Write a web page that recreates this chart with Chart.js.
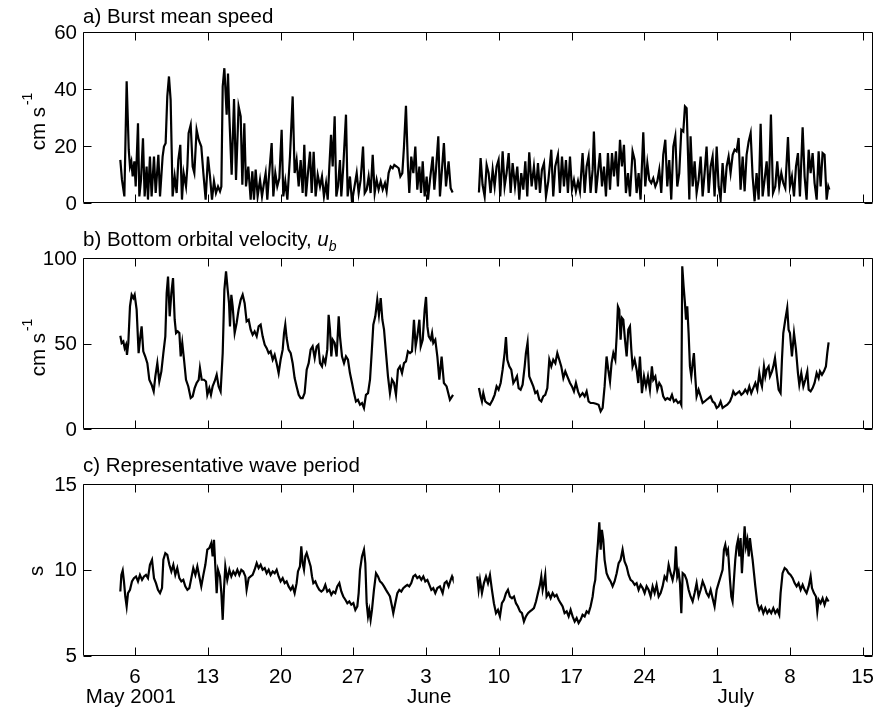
<!DOCTYPE html>
<html>
<head>
<meta charset="utf-8">
<script src="https://cdn.jsdelivr.net/npm/chart.js@4.4.1/dist/chart.umd.min.js"></script>
<style>
body{margin:0;background:#fff}
#wrap{position:relative;width:875px;height:709px}
canvas{position:absolute;left:0}
</style>
</head>
<body>
<div id="wrap">
  <canvas id="pa" width="875" height="226" style="top:0;width:875px;height:226px"></canvas>
  <canvas id="pb" width="875" height="226" style="top:226px;width:875px;height:226px"></canvas>
  <canvas id="pc" width="875" height="257" style="top:452px;width:875px;height:257px"></canvas>
</div>
<script>
// x is days since 1 May 2001
const dayTicks = [5,12,19,26,33,40,47,54,61,68,75];
const dayLabels = ['6','13','20','27','3','10','17','24','1','8','15'];
const monthLabels = ['May 2001','June','July'];
const monthDays = [4.6,33.3,62.8];
const gapDay = 36.8;

// a) burst mean speed, cm/s  [day, value]
const speedPart1 = [[3.59,15.1],[3.75,8.1],[3.98,2.3],[4.2,42.7],[4.4,18.7],[4.52,12.8],[4.65,14.6],[4.78,9.3],[4.94,14.6],[5.07,5.8],[5.29,28],[5.42,2.3],[5.58,8.1],[5.77,22.7],[5.93,2.3],[6.12,12.8],[6.25,1.2],[6.44,16.3],[6.6,2.3],[6.83,16.3],[6.99,3.5],[7.25,16.9],[7.41,2.3],[7.66,16.3],[7.79,19.8],[7.95,21],[8.11,37.4],[8.27,44.4],[8.43,36.2],[8.53,18.7],[8.62,2.3],[8.82,9.3],[9.01,3.5],[9.17,15.1],[9.36,20.4],[9.52,1.2],[9.68,10.5],[9.91,5.8],[10.04,12.8],[10.16,24.5],[10.36,27.4],[10.55,12.8],[10.71,10.5],[10.93,25.7],[11.13,22.2],[11.38,19.8],[11.58,10.5],[11.8,1.2],[12.02,16.3],[12.22,9.3],[12.41,1.2],[12.6,7.6],[12.79,3.5],[12.99,5.8],[13.18,4.1],[13.31,5.8],[13.44,40.9],[13.6,47.3],[13.82,31],[13.95,45.4],[14.08,30.4],[14.3,9.9],[14.53,36.5],[14.72,8.1],[14.97,33.9],[15.17,30.4],[15.33,6.4],[15.52,28],[15.68,5.8],[15.9,12.8],[16.13,1.2],[16.29,11.1],[16.45,1.2],[16.61,11.7],[16.8,2.3],[17.03,8.1],[17.22,2.3],[17.41,7],[17.57,10.5],[17.73,1.2],[17.86,8.1],[18.15,21],[18.31,2.3],[18.5,10.5],[18.69,5.8],[18.89,8.7],[19.11,25.7],[19.27,2.3],[19.46,7.6],[19.66,1.2],[19.91,16.3],[20.17,37.4],[20.36,10.5],[20.55,15.1],[20.75,5.8],[20.94,15.1],[21.13,3.5],[21.29,20.4],[21.45,2.3],[21.64,10.5],[21.84,18],[22,3.5],[22.19,18],[22.38,2.3],[22.58,9.9],[22.8,5.8],[22.99,9.3],[23.18,2.3],[23.38,7],[23.54,1.2],[23.7,12.8],[23.86,23.9],[24.02,12.8],[24.21,30.4],[24.37,2.3],[24.53,5.8],[24.72,15.1],[24.85,2.3],[25.04,12.8],[25.3,31],[25.46,2.3],[25.68,9.3],[25.88,0.3],[26.07,4.7],[26.33,10.5],[26.52,3.5],[26.71,8.1],[26.94,19.8],[27.1,3.5],[27.29,4.7],[27.48,9.3],[27.67,3.5],[27.87,16.9],[28.06,3.5],[28.25,8.1],[28.44,4.7],[28.64,7.6],[28.83,4.7],[29.05,7],[29.21,4.1],[29.4,10.5],[29.6,12.8],[29.79,12.2],[29.95,13.4],[30.17,12.8],[30.37,12.2],[30.53,9.3],[30.72,10.5],[30.88,19.8],[31.07,34.1],[31.26,12.8],[31.39,3.5],[31.58,16.3],[31.78,10.5],[31.97,19.8],[32.16,4.7],[32.36,12.8],[32.52,3.5],[32.68,14.6],[32.87,2.3],[33.06,9.3],[33.19,1.2],[33.38,8.1],[33.64,16.3],[33.8,4.7],[33.96,11.7],[34.18,23.4],[34.34,2.3],[34.72,21],[34.92,5.8],[35.17,14.6],[35.37,5.2],[35.56,3.7]];
const speedPart2 = [[38.09,3.7],[38.25,15.8],[38.44,6.4],[38.64,2.3],[38.83,13.4],[39.02,10.5],[39.21,3.5],[39.41,11.7],[39.6,5.8],[39.79,12.8],[39.98,15.1],[40.14,2.3],[40.37,18.1],[40.56,5.8],[40.75,10.5],[40.95,17.5],[41.14,3.5],[41.33,14],[41.56,5.8],[41.78,12.8],[41.97,1.2],[42.16,10.5],[42.36,4.7],[42.55,14.6],[42.74,2.3],[42.93,17.8],[43.16,5.8],[43.38,12.8],[43.58,4.7],[43.77,14],[43.96,3.5],[44.15,11.7],[44.35,14],[44.54,2.3],[44.76,7.6],[45.05,18.7],[45.24,2.3],[45.43,12.8],[45.69,16.9],[45.88,3.5],[46.08,16.3],[46.27,5.8],[46.46,15.1],[46.65,3.5],[46.85,16.3],[47.04,4.7],[47.23,8.1],[47.42,4.1],[47.62,7.6],[47.81,4.1],[48.06,17.5],[48.26,3.5],[48.45,12.8],[48.64,16.3],[48.83,3.5],[49.03,11.7],[49.15,25.1],[49.35,3.5],[49.54,10.5],[49.73,17.5],[49.93,5.8],[50.12,12.8],[50.31,2.3],[50.5,17.5],[50.7,4.7],[50.89,17.5],[51.08,9.3],[51.27,18.1],[51.46,5.8],[51.66,22.2],[51.85,12.8],[52.04,20.4],[52.23,3.5],[52.43,10.5],[52.62,2.3],[52.87,18.1],[53.07,15.1],[53.26,3.5],[53.45,10.5],[53.64,1.2],[53.9,24.8],[54.09,5.8],[54.29,14],[54.48,8.1],[54.67,7],[54.86,8.7],[55.06,5.8],[55.25,7.6],[55.44,11.7],[55.63,3.5],[55.82,16.9],[56.02,22.2],[56.21,5.8],[56.4,15.1],[56.59,1.2],[56.79,19.8],[56.98,23.4],[57.17,5.8],[57.36,10.5],[57.56,25.7],[57.75,25.1],[57.91,33.9],[58.07,33.3],[58.2,17.5],[58.33,1.2],[58.45,23.4],[58.65,5.8],[58.84,14.6],[59.03,3.5],[59.22,8.1],[59.42,16.3],[59.61,2.3],[59.8,10.5],[59.99,19.8],[60.19,3.5],[60.38,12.8],[60.57,16.3],[60.76,2.3],[60.96,19.8],[61.15,5.8],[61.34,1.2],[61.53,14],[61.73,3.5],[61.92,12.8],[62.11,16.3],[62.3,10.5],[62.5,16.9],[62.69,18.7],[62.88,18.1],[63.07,22.8],[63.26,4.7],[63.46,16.3],[63.65,4.1],[63.84,16.9],[64.04,21.6],[64.23,24.5],[64.42,9.3],[64.61,0.6],[64.8,10.5],[65,1.2],[65.19,27.8],[65.38,2.3],[65.57,8.1],[65.77,14.6],[65.96,2.3],[66.18,31],[66.38,3.5],[66.6,5.8],[66.79,14.6],[66.98,5.8],[67.18,10.5],[67.37,7],[67.56,5.2],[67.82,23.1],[68.01,5.8],[68.2,9.3],[68.4,2.3],[68.59,12.8],[68.78,17.5],[68.97,2.3],[69.23,26.6],[69.42,9.3],[69.61,1.2],[69.81,18.7],[70,10.5],[70.19,17.5],[70.38,7],[70.58,1.2],[70.77,18.1],[70.96,5.8],[71.15,17.5],[71.34,16.9],[71.54,1.2],[71.7,5.8],[71.8,4.7]];

// b) bottom orbital velocity, cm/s
const orbitalPart1 = [[3.59,54.5],[3.72,50.3],[3.88,51.2],[4.01,47.3],[4.14,49.3],[4.23,43.4],[4.36,50.3],[4.52,71.7],[4.68,78.5],[4.84,76.6],[4.97,78.5],[5.16,69.8],[5.35,44.4],[5.48,52.2],[5.64,60],[5.8,45.4],[5.99,42.4],[6.19,38.5],[6.38,28.8],[6.6,25.9],[6.8,22],[6.96,30.8],[7.15,38.5],[7.34,27.8],[7.54,33.7],[7.73,44.4],[7.92,54.2],[8.05,79.5],[8.18,89.2],[8.34,65.9],[8.5,79.5],[8.66,88.3],[8.82,63.9],[8.95,56.1],[9.11,57.1],[9.27,56.1],[9.4,42.4],[9.55,50.3],[9.72,40.5],[9.91,28.8],[10.13,24.9],[10.36,18.1],[10.55,19.1],[10.74,23.9],[10.93,26.9],[11.13,28.8],[11.25,35.6],[11.42,28.8],[11.64,28.8],[11.83,27.8],[11.96,20],[12.15,23.9],[12.31,20],[12.47,24.9],[12.66,27.8],[12.86,31.7],[13.05,24.9],[13.24,22],[13.44,44.4],[13.6,81.4],[13.76,92.2],[13.92,81.4],[14.05,73.6],[14.14,60],[14.27,78.5],[14.4,71.7],[14.59,56.1],[14.78,62],[14.97,69.8],[15.17,75.6],[15.36,78.5],[15.55,73.6],[15.74,62.9],[15.94,63.9],[16.13,58.1],[16.32,55.1],[16.51,57.1],[16.71,54.2],[16.9,60],[17.09,61],[17.28,54.2],[17.48,49.3],[17.67,47.3],[17.86,44.4],[18.05,45.4],[18.25,40.5],[18.44,43.4],[18.63,38.5],[18.82,32.7],[19.01,40.5],[19.21,46.4],[19.34,56.1],[19.46,61],[19.59,53.2],[19.78,46.4],[19.98,44.4],[20.17,38.5],[20.36,29.8],[20.55,24.9],[20.75,20],[20.94,18.1],[21.13,18.1],[21.32,21],[21.52,34.7],[21.71,38.5],[21.9,46.4],[22.09,48.3],[22.29,41.5],[22.48,48.3],[22.64,49.3],[22.8,38.5],[22.99,36.6],[23.12,41.5],[23.31,38.5],[23.5,46.4],[23.63,66.8],[23.76,58.1],[23.89,42.4],[24.02,52.2],[24.21,50.3],[24.4,42.4],[24.6,65.9],[24.72,54.2],[24.92,42.4],[25.11,38.5],[25.3,42.4],[25.49,40.5],[25.68,32.7],[25.88,26.9],[26.07,21],[26.26,16.1],[26.45,17.1],[26.65,14.2],[26.84,15.2],[27.03,12.3],[27.22,20],[27.42,21],[27.61,28.8],[27.77,44.4],[27.93,61],[28.12,65.9],[28.31,75.6],[28.47,66.8],[28.64,76.6],[28.8,63.9],[28.96,58.1],[29.15,44.4],[29.34,30.8],[29.53,21],[29.73,28.8],[29.92,26.9],[30.11,20],[30.3,34.7],[30.49,36.6],[30.69,32.7],[30.88,38.5],[31.07,39.5],[31.26,45.4],[31.46,44.4],[31.65,45.4],[31.84,63.9],[32,48.3],[32.16,54.2],[32.36,63.9],[32.49,48.3],[32.68,52.2],[32.87,69.8],[33,77.2],[33.13,60],[33.26,54.2],[33.45,52.2],[33.58,56.1],[33.7,50.3],[33.89,52.2],[34.09,42.4],[34.28,28.8],[34.5,42.4],[34.72,26.9],[34.98,24.9],[35.3,17.1],[35.6,20]];
const orbitalPart2 = [[38.09,24],[38.25,19.1],[38.38,16.1],[38.51,21],[38.7,16.1],[38.89,15.2],[39.15,14.2],[39.41,17.1],[39.6,20],[39.79,24.9],[39.98,23],[40.18,26.9],[40.37,34.7],[40.56,44.4],[40.69,53.8],[40.82,40.5],[41.01,36.6],[41.2,34.7],[41.4,26.9],[41.59,28.8],[41.75,30.8],[41.91,23.9],[42.1,23],[42.29,25.9],[42.49,36.6],[42.61,44.4],[42.77,50.6],[42.93,30.8],[43.13,27.8],[43.32,24.9],[43.51,21],[43.7,22],[43.9,17.1],[44.09,16.1],[44.28,19.1],[44.47,20],[44.67,23.9],[44.86,40.5],[45.05,36.6],[45.24,40.5],[45.44,38.5],[45.63,44.4],[45.82,40.5],[46.01,36.6],[46.21,29.8],[46.4,33.7],[46.59,30.8],[46.85,26.9],[47.04,24.9],[47.23,22],[47.42,26.9],[47.62,22],[47.81,19.1],[48.06,21],[48.26,19.1],[48.45,22],[48.64,16.1],[48.83,15.2],[49.09,15.2],[49.35,14.8],[49.6,14.2],[49.8,10.3],[49.99,12.3],[50.18,24.9],[50.37,42.4],[50.53,34.7],[50.7,27.8],[50.85,38.5],[51.02,44.4],[51.21,40.5],[51.34,54.2],[51.46,71.7],[51.59,69.8],[51.72,52.2],[51.85,64.9],[51.98,63.9],[52.14,52.2],[52.3,42.4],[52.46,58.1],[52.62,60],[52.75,46.4],[52.87,36.6],[53.07,40.5],[53.26,34.7],[53.42,26.9],[53.58,42.4],[53.77,21],[53.97,30.8],[54.16,24.9],[54.35,30.8],[54.54,23],[54.73,36.6],[54.86,28.8],[55.06,30.8],[55.25,23],[55.44,26.9],[55.63,24.9],[55.82,19.1],[56.02,17.1],[56.21,18.1],[56.47,17.1],[56.66,20],[56.85,16.1],[57.04,17.1],[57.24,15.2],[57.43,16.1],[57.56,14.2],[57.65,95.1],[57.78,83.4],[57.91,73.6],[58.01,63.9],[58.13,71.7],[58.26,56.1],[58.39,36.6],[58.52,30.8],[58.65,38.5],[58.77,44.4],[58.9,30.8],[59.03,19.1],[59.22,23],[59.42,19.1],[59.61,15.2],[59.8,16.1],[59.99,17.1],[60.19,18.1],[60.38,19.1],[60.57,16.1],[60.76,15.2],[60.96,12.3],[61.15,13.2],[61.34,16.1],[61.53,12.3],[61.73,13.2],[61.98,14.2],[62.24,16.1],[62.43,19.1],[62.56,22],[62.75,20],[62.94,21],[63.14,22],[63.33,20],[63.52,21],[63.71,23],[63.91,21],[64.1,24.9],[64.29,21],[64.48,23.9],[64.68,26.9],[64.87,23],[65.06,32.7],[65.19,27.8],[65.32,24.9],[65.51,36.6],[65.64,30.8],[65.77,34.7],[65.96,36.6],[66.09,30.8],[66.28,33.7],[66.41,36.6],[66.57,41.5],[66.73,32.7],[66.92,23],[67.11,21],[67.24,40.5],[67.37,56.1],[67.56,63.9],[67.75,70.8],[67.88,58.1],[68.01,56.1],[68.2,42.4],[68.4,56.1],[68.59,46.4],[68.78,32.7],[68.91,25.9],[69.1,32.7],[69.3,24.9],[69.49,28.8],[69.68,33.7],[69.81,23],[70,22],[70.19,23.9],[70.38,26.9],[70.58,32.7],[70.77,29.8],[70.9,33.7],[71.09,31.7],[71.28,33.7],[71.47,36.6],[71.6,44.4],[71.73,50.6]];

// c) representative wave period, s
const periodPart1 = [[3.59,8.73],[3.69,9.7],[3.82,9.96],[3.94,9.32],[4.07,8.44],[4.2,7.86],[4.33,8.64],[4.52,8.83],[4.71,9.32],[4.9,9.51],[5.1,9.61],[5.29,9.32],[5.48,9.7],[5.68,9.41],[5.87,9.61],[6.06,9.7],[6.25,9.51],[6.44,10.29],[6.64,10.58],[6.83,9.51],[7.02,9.22],[7.21,8.83],[7.41,8.64],[7.6,8.93],[7.73,10.58],[7.92,10.97],[8.11,10.87],[8.31,10.29],[8.5,9.9],[8.69,10.29],[8.88,9.7],[9.07,10.1],[9.27,9.51],[9.46,9.32],[9.65,9.41],[9.84,9.03],[10.04,8.83],[10.23,8.93],[10.42,9.51],[10.61,10.1],[10.81,9.7],[11,10.19],[11.19,9.61],[11.38,9.03],[11.58,9.7],[11.77,10.29],[11.96,11.17],[12.15,11.26],[12.34,11.55],[12.47,10.78],[12.6,11.75],[12.73,10.19],[12.86,8.64],[12.99,10],[13.18,9.61],[13.31,8.64],[13.44,7.08],[13.56,8.83],[13.69,10.19],[13.88,9.41],[14.08,10],[14.27,9.61],[14.46,9.9],[14.65,9.7],[14.85,10],[15.04,9.7],[15.23,10],[15.42,9.9],[15.62,9.61],[15.74,8.83],[15.94,9.51],[16.13,9.61],[16.32,9.7],[16.51,10],[16.71,10.39],[16.9,10.1],[17.09,10.29],[17.28,10],[17.48,10.1],[17.67,9.8],[17.86,10],[18.05,9.7],[18.25,9.9],[18.44,9.8],[18.63,10],[18.82,9.61],[19.01,9.32],[19.21,9.51],[19.4,9.22],[19.59,9.32],[19.78,9.03],[19.98,8.83],[20.17,9.03],[20.36,8.64],[20.55,9.22],[20.68,9.9],[20.87,10.19],[21,11.36],[21.13,10.39],[21.26,10],[21.39,10.78],[21.52,10.97],[21.71,10.58],[21.9,10.19],[22.03,9.61],[22.16,9.22],[22.35,9.32],[22.54,9.03],[22.73,8.83],[22.93,8.73],[23.12,8.83],[23.31,9.12],[23.5,8.73],[23.7,8.83],[23.89,8.54],[24.08,8.73],[24.27,8.64],[24.46,9.03],[24.66,9.22],[24.85,8.73],[25.04,8.44],[25.24,8.25],[25.43,8.05],[25.62,8.15],[25.81,7.96],[26.01,8.05],[26.2,7.66],[26.39,7.86],[26.52,8.64],[26.65,10],[26.84,10.78],[27.03,11.17],[27.16,10.39],[27.29,8.05],[27.42,7.28],[27.54,7.66],[27.67,7.08],[27.8,7.66],[27.99,8.83],[28.19,9.8],[28.38,9.61],[28.57,9.32],[28.76,9.22],[28.96,9.03],[29.15,8.83],[29.34,8.64],[29.53,8.44],[29.73,7.86],[29.85,7.47],[30.04,8.05],[30.24,8.64],[30.43,8.83],[30.62,8.73],[30.81,8.93],[31.01,9.03],[31.2,9.12],[31.39,9.03],[31.58,9.22],[31.78,9.61],[31.97,9.7],[32.16,9.51],[32.36,9.61],[32.55,9.41],[32.74,9.61],[32.93,9.32],[33.13,9.41],[33.32,9.12],[33.51,8.83],[33.7,8.93],[33.89,8.64],[34.09,8.93],[34.34,9.03],[34.6,8.64],[34.79,9.22],[34.98,9.32],[35.17,9.03],[35.37,9.41],[35.5,9.61],[35.56,9.51]];
const periodPart2 = [[37.93,9.61],[38.06,8.83],[38.19,9.41],[38.38,8.64],[38.57,9.22],[38.77,9.61],[38.96,9.22],[39.15,9.7],[39.34,8.83],[39.53,8.05],[39.73,7.47],[39.92,7.66],[40.11,7.28],[40.3,8.05],[40.5,8.25],[40.69,8.64],[40.88,8.83],[41.07,8.44],[41.27,8.34],[41.46,8.44],[41.65,8.05],[41.84,7.86],[42.04,7.57],[42.23,7.47],[42.42,6.98],[42.61,7.28],[42.81,7.47],[43,7.57],[43.19,7.66],[43.38,7.76],[43.58,8.15],[43.77,8.64],[43.96,9.12],[44.09,9.61],[44.22,8.83],[44.35,9.22],[44.47,9.7],[44.6,8.44],[44.79,8.64],[44.99,8.34],[45.18,8.64],[45.37,8.44],[45.56,8.54],[45.76,8.25],[45.95,8.05],[46.14,7.86],[46.33,7.47],[46.53,7.57],[46.72,7.28],[46.91,7.66],[47.1,7.28],[47.3,6.98],[47.49,7.18],[47.68,6.89],[47.87,7.08],[48.06,7.37],[48.26,7.28],[48.45,7.57],[48.64,7.47],[48.83,7.86],[49.03,8.44],[49.15,9.03],[49.28,9.41],[49.41,10.58],[49.54,11.55],[49.67,12.76],[49.8,11.17],[49.92,12.33],[50.05,11.75],[50.18,10.58],[50.37,9.8],[50.57,9.51],[50.76,9.32],[50.95,9.03],[51.14,9.32],[51.34,9.8],[51.53,10.39],[51.72,10.58],[51.91,11.17],[52.1,10.48],[52.3,10.19],[52.49,9.7],[52.68,9.41],[52.87,9.32],[53.07,9.12],[53.26,9.22],[53.45,8.83],[53.64,9.12],[53.84,8.93],[54.03,8.64],[54.22,9.03],[54.41,8.83],[54.61,8.44],[54.8,9.03],[54.99,8.64],[55.18,9.12],[55.38,8.44],[55.57,8.64],[55.76,9.03],[55.95,9.61],[56.15,9.41],[56.34,10.29],[56.53,9.8],[56.72,9.41],[56.92,10],[57.04,11.36],[57.17,9.61],[57.3,9.9],[57.43,9.22],[57.56,7.47],[57.69,9.8],[57.88,9.7],[58.07,9.41],[58.26,8.83],[58.45,8.44],[58.65,8.15],[58.84,8.64],[59.03,9.22],[59.22,8.44],[59.42,8.83],[59.61,9.32],[59.8,9.03],[59.99,8.64],[60.19,8.44],[60.38,8.83],[60.57,8.34],[60.76,7.86],[60.96,8.83],[61.15,9.22],[61.34,9.61],[61.53,10],[61.66,11.17],[61.79,11.46],[61.92,10.97],[62.05,11.17],[62.24,9.41],[62.37,8.44],[62.49,8.15],[62.62,9.41],[62.75,10.58],[62.88,11.36],[63.01,11.75],[63.14,10.78],[63.26,11.85],[63.39,9.8],[63.52,11.17],[63.65,12.53],[63.78,11.36],[63.91,11.75],[64.04,10.78],[64.16,11.85],[64.29,11.17],[64.42,10.58],[64.55,9.8],[64.68,9.03],[64.87,8.05],[65.06,7.66],[65.25,7.86],[65.45,7.47],[65.64,7.76],[65.83,7.47],[66.02,7.66],[66.21,7.47],[66.41,7.76],[66.6,7.47],[66.79,7.66],[66.98,7.37],[67.11,8.64],[67.3,9.8],[67.5,10.1],[67.69,10],[67.88,9.8],[68.07,9.7],[68.27,9.51],[68.46,9.22],[68.65,9.03],[68.84,9.22],[69.04,8.83],[69.23,9.12],[69.42,8.83],[69.61,8.64],[69.81,9.03],[70,9.61],[70.13,8.93],[70.32,8.64],[70.51,8.44],[70.64,7.57],[70.77,8.25],[70.96,8.05],[71.15,8.34],[71.34,7.96],[71.54,8.34],[71.73,8.15]];

const FONT = '"Liberation Sans", Arial, Helvetica, sans-serif';
const FS = 20.5;
const TICK = 8;

function series(p1, p2){
  return p1.map(p=>({x:p[0], y:p[1]}))
    .concat([{x:gapDay, y:null}])
    .concat(p2.map(p=>({x:p[0], y:p[1]})));
}

// frame, inward ticks and all text, matlab style
const panelFrame = {
  id: 'panelFrame',
  afterDatasetsDraw(chart, args, o){
    const {ctx, chartArea: a} = chart;
    const xs = chart.scales.x, ys = chart.scales.y;
    const L = Math.round(a.left)+0.5, R = Math.round(a.right)-0.5;
    const T = Math.round(a.top)+0.5, B = Math.round(a.bottom)-0.5;
    ctx.save();
    ctx.strokeStyle = '#000';
    ctx.lineWidth = 1;
    ctx.beginPath();
    ctx.rect(L, T, R-L, B-T);
    dayTicks.forEach(d=>{
      const px = Math.round(xs.getPixelForValue(d))+0.5;
      ctx.moveTo(px, T); ctx.lineTo(px, T+TICK);
      ctx.moveTo(px, B); ctx.lineTo(px, B-TICK);
    });
    o.yTicks.forEach(v=>{
      const py = Math.round(ys.getPixelForValue(v))+0.5;
      ctx.moveTo(L, py); ctx.lineTo(L+TICK, py);
      ctx.moveTo(R, py); ctx.lineTo(R-TICK, py);
    });
    ctx.stroke();

    ctx.fillStyle = '#000';
    ctx.font = `${FS}px ${FONT}`;
    // y tick labels
    ctx.textAlign = 'right';
    ctx.textBaseline = 'middle';
    o.yTicks.forEach(v=> ctx.fillText(String(v), a.left-6, ys.getPixelForValue(v)+1));

    // panel title
    ctx.textAlign = 'left';
    ctx.textBaseline = 'alphabetic';
    let tx = a.left;
    const ty = a.top + o.titleDy;
    o.title.forEach(seg=>{
      ctx.font = `${seg.italic?'italic ':''}${seg.sub?14:FS}px ${FONT}`;
      ctx.fillText(seg.t, tx, ty + (seg.sub?5:0));
      tx += ctx.measureText(seg.t).width;
    });

    // y label, rotated
    ctx.save();
    ctx.translate(o.yLabelX, (a.top+a.bottom)/2 + o.yLabelShift);
    ctx.rotate(-Math.PI/2);
    ctx.font = `${FS}px ${FONT}`;
    const w1 = ctx.measureText(o.yLabel).width;
    ctx.font = `14px ${FONT}`;
    const w2 = o.yLabelSup ? ctx.measureText(o.yLabelSup).width + 2 : 0;
    const start = -(w1+w2)/2;
    ctx.font = `${FS}px ${FONT}`;
    ctx.fillText(o.yLabel, start, 0);
    if(o.yLabelSup){
      ctx.font = `14px ${FONT}`;
      ctx.fillText(o.yLabelSup, start+w1+2, -13);
    }
    ctx.restore();

    // date labels under the last panel
    if(o.dates){
      ctx.font = `${FS}px ${FONT}`;
      ctx.textAlign = 'center';
      dayTicks.forEach((d,i)=> ctx.fillText(dayLabels[i], xs.getPixelForValue(d), a.bottom+27.5));
      monthLabels.forEach((m,i)=> ctx.fillText(m, xs.getPixelForValue(monthDays[i]), a.bottom+47.5));
    }
    ctx.restore();
  }
};

function makePanel(id, pts, yMax, yTicks, bottomPad, frameOpts){
  return new Chart(document.getElementById(id), {
    type: 'line',
    data: {datasets: [{
      data: pts,
      borderColor: '#000',
      borderWidth: 2.2,
      pointRadius: 0,
      tension: 0,
      spanGaps: false,
      fill: false
    }]},
    options: {
      responsive: false,
      animation: false,
      devicePixelRatio: 1,
      events: [],
      layout: {padding: {left: 83, right: 2, top: 32, bottom: bottomPad}},
      scales: {
        x: {type: 'linear', min: 0, max: 76, display: false},
        y: {min: yTicks[0], max: yMax, display: false}
      },
      plugins: {
        legend: {display: false},
        tooltip: {enabled: false},
        panelFrame: Object.assign({yTicks}, frameOpts)
      }
    },
    plugins: [panelFrame]
  });
}

makePanel('pa', series(speedPart1, speedPart2), 60, [0,20,40,60], 23, {
  title: [{t:'a) Burst mean speed'}], titleDy: -9,
  yLabel: 'cm s', yLabelSup: '-1', yLabelX: 45, yLabelShift: 4
});
makePanel('pb', series(orbitalPart1, orbitalPart2), 100, [0,50,100], 23, {
  title: [{t:'b) Bottom orbital velocity, '}, {t:'u', italic:true}, {t:'b', italic:true, sub:true}], titleDy: -12,
  yLabel: 'cm s', yLabelSup: '-1', yLabelX: 45, yLabelShift: 4
});
makePanel('pc', series(periodPart1, periodPart2), 15, [5,10,15], 53.5, {
  title: [{t:'c) Representative wave period'}], titleDy: -12,
  yLabel: 's', yLabelX: 43, yLabelShift: 1, dates: true
});
</script>
</body>
</html>
